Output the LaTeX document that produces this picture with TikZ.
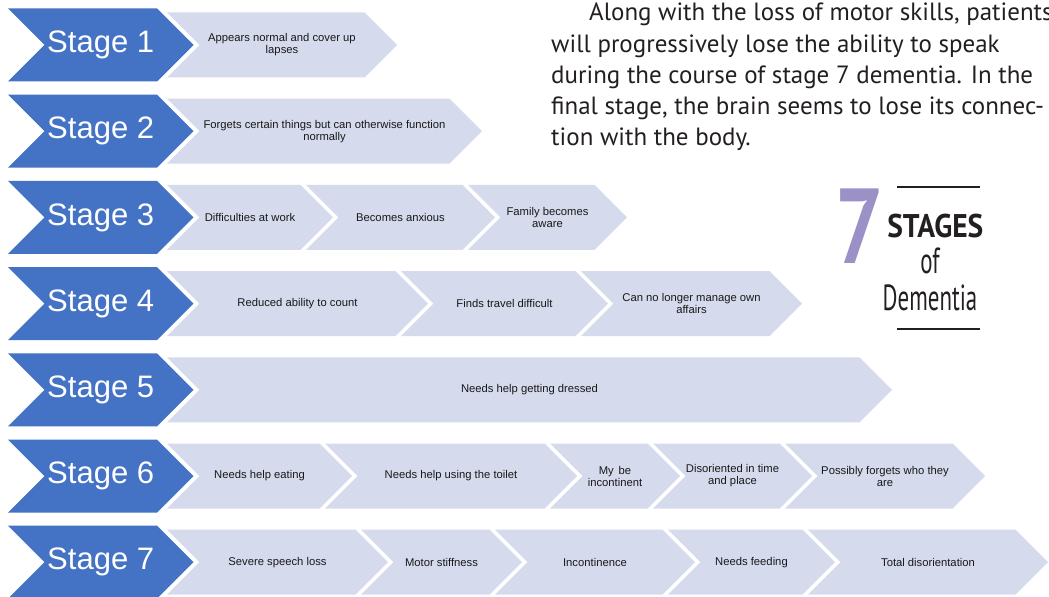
\documentclass[tikz,border=0pt]{standalone}
\usepackage{fontspec}
\setmainfont{Liberation Sans}
\newfontfamily\parafont{PT Sans}
\newfontfamily\sevenfont[FakeStretch=0.8]{PT Sans}
\newfontfamily\stagesfont[FakeStretch=0.9]{PT Sans}
\newfontfamily\dementfont[FakeStretch=0.63]{PT Sans}
\usepackage{tikz}
\usetikzlibrary{
positioning
}
\tikzset{>=latex}

\definecolor{stageblue}{RGB}{68,114,196}
\definecolor{stepgray}{RGB}{213,218,236}
\definecolor{logopurple}{RGB}{155,145,199}
\definecolor{inkgray}{RGB}{35,31,32}

\tikzset{
stagelabel/.style={text=white, inner sep=0pt, font=\fontsize{26.5}{28}\selectfont},
steptext/.style={text=black!90, inner sep=0pt, align=center, font=\fontsize{9.6}{10.2}\selectfont},
paraline/.style={anchor=base west, inner sep=0pt, text=inkgray, font=\parafont\fontsize{21.3}{26.7}\selectfont},
logotext/.style={inner sep=0pt, text=inkgray, font=\dementfont\fontsize{31}{31}\selectfont}
}

% blue arrow at the start of a row: name, y, label
\newcommand{\stagechev}[3]{%
  \fill[stageblue] (8,#2-36.5) -- (157,#2-36.5) -- (193.5,#2) -- (157,#2+36.5) -- (8,#2+36.5) -- (44.5,#2) -- cycle;
  \node[stagelabel] (#1) at (100.75,#2) {#3};
}
% light arrow: name, y, left, tip, text
\newcommand{\stepchev}[5]{%
  \fill[stepgray] (#3,#2-32.5) -- (#4-32.5,#2-32.5) -- (#4,#2) -- (#4-32.5,#2+32.5) -- (#3,#2+32.5) -- (#3+32.5,#2) -- cycle;
  \node[steptext] (#1) at ({(#3+#4)/2},#2) {#5};
}

\begin{document}
\begin{tikzpicture}[x=0.03cm,y=-0.03cm]
		\useasboundingbox (0,0) rectangle (1049,597);
		\clip (0,0) rectangle (1049,597);
		
		% Stage 1
		\stagechev{stageone}{45}{Stage 1}
		\stepchev{normal}{45}{167}{397}{Appears normal and cover up\\lapses}
		% Stage 2
		\stagechev{stagetwo}{131.2}{Stage 2}
		\stepchev{forgets}{131.2}{167}{482}{Forgets certain things but can otherwise function\\normally}
		% Stage 3
		\stagechev{stagethree}{217.4}{Stage 3}
		\stepchev{work}{217.4}{167}{333}{Difficulties at work}
		\stepchev{anxious}{217.4}{306}{495}{Becomes anxious}
		\stepchev{family}{217.4}{468}{627}{Family becomes\\aware}
		% Stage 4
		\stagechev{stagefour}{303.6}{Stage 4}
		\stepchev{count}{303.6}{167}{428}{Reduced ability to count}
		\stepchev{travel}{303.6}{401}{608}{Finds travel difficult}
		\stepchev{affairs}{303.6}{581}{802}{Can no longer manage own\\affairs}
		% Stage 5
		\stagechev{stagefive}{389.8}{Stage 5}
		\stepchev{dressed}{389.8}{167}{892}{Needs help getting dressed}
		% Stage 6
		\stagechev{stagesix}{476}{Stage 6}
		\stepchev{eating}{476}{167}{352}{Needs help eating}
		\stepchev{toilet}{476}{325}{577}{Needs help using the toilet}
		\stepchev{incontinent}{476}{550}{680}{My\, be\\incontinent}
		\stepchev{disoriented}{476}{653}{812}{Disoriented in time\\and place}
		\stepchev{who}{476}{785}{985}{Possibly forgets who they\\are}
		% Stage 7
		\stagechev{stageseven}{562.2}{Stage 7}
		\stepchev{speech}{562.2}{167}{388}{Severe speech loss}
		\stepchev{stiffness}{562.2}{361}{522}{Motor stiffness}
		\stepchev{incontinence}{562.2}{495}{695}{Incontinence}
		\stepchev{feeding}{562.2}{668}{835}{Needs feeding}
		\stepchev{total}{562.2}{808}{1048}{Total disorientation}
		
		% text at the top
		\node[paraline] (paraa) at (589,21) {Along with the loss of motor skills, patients};
		\node[paraline] (parab) at (551,52.25) {will progressively lose the ability to speak};
		\node[paraline] (parac) at (551,83.5) {during the course of stage 7 dementia. In the};
		\node[paraline] (parad) at (551,114.75) {final stage, the brain seems to lose its connec-};
		\node[paraline] (parae) at (551,146) {tion with the body.};
		
		% title block
		\draw[inkgray, line width=1.8pt] (897,187) -- (980,187);
		\node[anchor=base, inner sep=0pt, text=logopurple, font=\sevenfont\bfseries\fontsize{91}{91}\selectfont] (seven) at (860,263) {7};
		\node[anchor=base west, inner sep=0pt, text=inkgray, font=\stagesfont\bfseries\fontsize{28}{28}\selectfont] (stages) at (887,237) {STAGES};
		\node[logotext, anchor=base] (of) at (930,273) {of};
		\node[logotext, below=32.4pt of of.base, anchor=base] (dementia) {Dementia};
		\draw[inkgray, line width=1.8pt] (897,329) -- (980,329);
\end{tikzpicture}
\end{document}
